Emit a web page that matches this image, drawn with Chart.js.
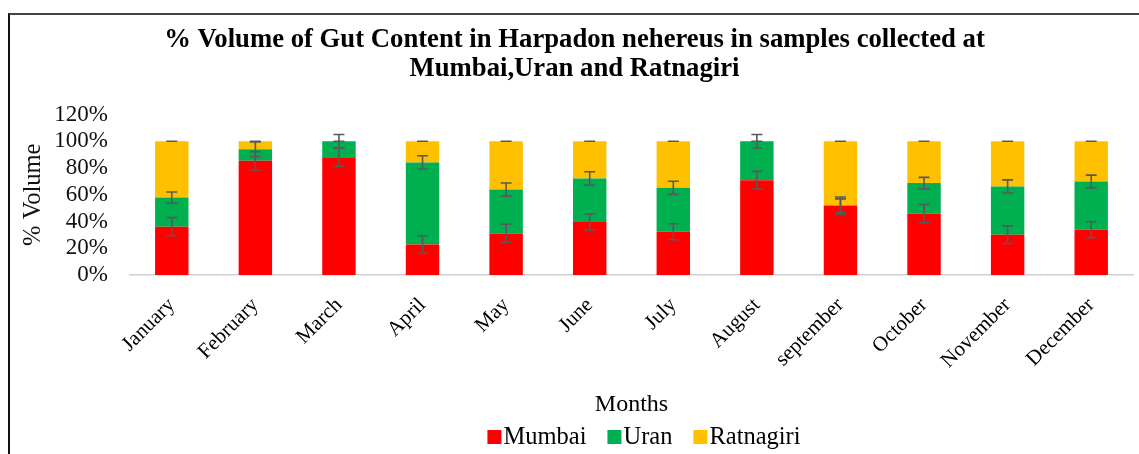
<!DOCTYPE html>
<html>
<head>
<meta charset="utf-8">
<script src="https://cdn.jsdelivr.net/npm/chart.js@4/dist/chart.umd.min.js"></script>
<style>
    html, body { margin: 0; padding: 0; background: #fff; overflow: hidden; }
    #wrap { position: relative; width: 1139px; height: 454px; }
    #frame {
        position: absolute; left: 8px; top: 13px; right: -10px; bottom: -10px;
        border-top: 2px solid #444; border-left: 2px solid #111;
        pointer-events: none;
    }
</style>
</head>
<body>
<div id="wrap">
    <canvas id="chart" width="1139" height="454"></canvas>
    <div id="frame"></div>
</div>
<script>
const months = ['January', 'February', 'March', 'April', 'May', 'June', 'July',
    'August', 'september', 'October', 'November', 'December'];

// % volume per site
const mumbai    = [36.1, 85.4, 88.0, 22.8, 31.1, 39.6, 32.3, 70.9, 51.9, 45.9, 30.1, 33.8];
const uran      = [21.8,  8.6, 12.0, 61.4, 32.8, 32.6, 32.9, 29.1,  0.0, 22.8, 36.1, 36.1];
const ratnagiri = [42.1,  6.0,  0.0, 15.8, 36.1, 27.8, 34.8,  0.0, 48.1, 31.3, 33.8, 30.1];

// error bar half-lengths
const mumbai_err    = [6.8, 6.8, 6.8, 6.5, 6.8, 6.0, 6.0, 6.6, 6.4, 6.8, 6.6, 6.0];
const uran_err      = [4.2, 5.5, 5.0, 5.0, 4.9, 5.0, 4.9, 5.0, 5.0, 4.3, 4.9, 4.8];
const ratnagiri_err = [0, 0, 0, 0, 0, 0, 0, 0, 0, 0, 0, 0];

const serif = '"Liberation Serif", "Times New Roman", serif';

const error_bars = {
    id: 'error_bars',
    afterDatasetsDraw: c => {
        const ctx = c.ctx;
        const y = c.scales.y;
        ctx.save();
        ctx.strokeStyle = '#595959';
        ctx.lineWidth = 1.6;
        c.data.datasets.forEach((ds, i) => {
            const meta = c.getDatasetMeta(i);
            meta.data.forEach((bar, j) => {
                let cum = 0;
                for (let k = 0; k <= i; k++) cum += c.data.datasets[k].data[j];
                const e = ds.errors[j];
                const top = y.getPixelForValue(cum + e);
                const bot = y.getPixelForValue(cum - e);
                const x = bar.x;
                ctx.beginPath();
                ctx.moveTo(x, top); ctx.lineTo(x, bot);
                ctx.moveTo(x - 5.5, top); ctx.lineTo(x + 5.5, top);
                ctx.moveTo(x - 5.5, bot); ctx.lineTo(x + 5.5, bot);
                ctx.stroke();
            });
        });
        ctx.restore();
    }
};

// simple legend: small square, tight text, drawn under the axis title
const bottom_legend = {
    id: 'bottom_legend',
    afterDraw: c => {
        const ctx = c.ctx;
        const box = 14, gap = 2, space = 21, cx = 644, cy = 437;
        ctx.save();
        ctx.font = '24.5px ' + serif;
        ctx.textBaseline = 'middle';
        const items = c.data.datasets.map(ds => ({ text: ds.label, color: ds.backgroundColor, w: ctx.measureText(ds.label).width }));
        const total = items.reduce((s, it) => s + box + gap + it.w, 0) + space * (items.length - 1);
        let x = cx - total / 2;
        items.forEach(it => {
            ctx.fillStyle = it.color;
            ctx.fillRect(x, cy - box / 2, box, box);
            ctx.fillStyle = '#000';
            ctx.fillText(it.text, x + box + gap, cy + 1);
            x += box + gap + it.w + space;
        });
        ctx.restore();
    }
};

let chart;

const init_graph = () => {
    const ctx = document.getElementById('chart').getContext('2d');

    chart = new Chart(ctx, {
        type: 'bar',
        data: {
            labels: months,
            datasets: [
                { label: 'Mumbai', data: mumbai, errors: mumbai_err, backgroundColor: '#FF0000' },
                { label: 'Uran', data: uran, errors: uran_err, backgroundColor: '#00B050' },
                { label: 'Ratnagiri', data: ratnagiri, errors: ratnagiri_err, backgroundColor: '#FFC000' },
            ],
        },
        options: {
            responsive: false,
            animation: false,
            layout: { padding: { left: 16, right: 6, top: 0, bottom: 0 } },
            datasets: {
                bar: { barPercentage: 0.4, categoryPercentage: 1, borderWidth: 0 }
            },
            scales: {
                x: {
                    stacked: true,
                    grid: { display: false },
                    border: { display: true, color: '#d0d0d0', width: 1.5 },
                    ticks: {
                        color: '#000',
                        font: { family: serif, size: 21 },
                        minRotation: 45,
                        maxRotation: 45,
                        autoSkip: false,
                        padding: 10,
                    },
                    title: {
                        display: true,
                        text: 'Months',
                        color: '#000',
                        font: { family: serif, size: 24, lineHeight: 1.0 },
                        padding: { top: 0, bottom: 37 },
                    },
                    afterFit: s => { s.height = 179; },
                },
                y: {
                    stacked: true,
                    min: 0,
                    max: 120,
                    grid: { display: false },
                    border: { display: false },
                    ticks: {
                        stepSize: 20,
                        autoSkip: false,
                        color: '#111',
                        font: { family: serif, size: 23 },
                        padding: 14,
                        callback: v => v + '%',
                    },
                    title: {
                        display: true,
                        text: '% Volume',
                        color: '#111',
                        font: { family: serif, size: 24.5, lineHeight: 1.2 },
                        padding: { top: 3, bottom: 0 },
                    },
                    afterFit: s => { s.width = 114; },
                },
            },
            plugins: {
                title: {
                    display: true,
                    text: ['% Volume of Gut Content in Harpadon nehereus in samples collected at',
                        'Mumbai,Uran and Ratnagiri'],
                    color: '#000',
                    font: { family: serif, size: 26.7, weight: 'bold', lineHeight: 1.086 },
                    padding: { top: 25.5, bottom: 31 },
                },
                legend: { display: false },
                tooltip: { enabled: false },
            },
        },
        plugins: [error_bars, bottom_legend],
    });
};

init_graph();
</script>
</body>
</html>
